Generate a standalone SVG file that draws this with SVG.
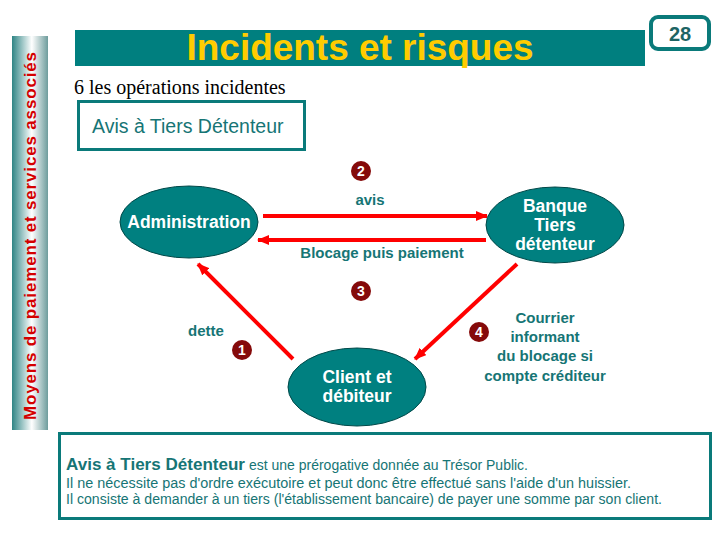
<svg xmlns="http://www.w3.org/2000/svg" width="720" height="540" viewBox="0 0 720 540">
<defs>
<linearGradient id="barGrad" x1="0" y1="0" x2="1" y2="0">
<stop offset="0" stop-color="#2f8585"/>
<stop offset="0.55" stop-color="#ffffff"/>
<stop offset="1" stop-color="#6e9c9c"/>
</linearGradient>
<marker id="ah" viewBox="0 0 12 10" refX="11" refY="5" markerWidth="12" markerHeight="10" markerUnits="userSpaceOnUse" orient="auto">
<path d="M0,0 L12,5 L0,10 z" fill="#ff0000"/>
</marker>
<style>
.node{fill:#008080;stroke:#004848;stroke-width:1}
.nt{font-family:"Liberation Sans",Arial,sans-serif;font-weight:bold;font-size:17.5px;fill:#ffffff;text-anchor:middle}
.lbl{font-family:"Liberation Sans",Arial,sans-serif;font-weight:bold;font-size:15px;fill:#167575;text-anchor:middle}
.arr{stroke:#ff0000;stroke-width:4;fill:none;marker-end:url(#ah)}
.num{fill:#850a0a}
.numt{font-family:"Liberation Sans",Arial,sans-serif;font-weight:bold;font-size:14px;fill:#ffffff;text-anchor:middle}
.body{font-family:"Liberation Sans",Arial,sans-serif;font-size:14px;fill:#167575}
</style>
</defs>
<rect width="720" height="540" fill="#ffffff"/>

<g id="sidebar">
<rect x="12" y="36" width="36" height="394" fill="url(#barGrad)"/>
<text transform="translate(36,420) rotate(-90)" font-family="'Liberation Sans',Arial,sans-serif" font-weight="bold" font-size="17" fill="#d40000" textLength="368" lengthAdjust="spacing">Moyens de paiement et services associés</text>
</g>

<g id="title">
<rect x="75" y="30" width="570" height="36" fill="#007f7f"/>
<text x="360" y="60" text-anchor="middle" font-family="'Liberation Sans',Arial,sans-serif" font-weight="bold" font-size="36" fill="#ffcc00" textLength="347" lengthAdjust="spacingAndGlyphs">Incidents et risques</text>
</g>

<g id="page">
<rect x="651" y="17" width="58" height="32" rx="7" fill="#ffffff" stroke="#0a7a7a" stroke-width="4"/>
<text x="680" y="41" text-anchor="middle" font-family="'Liberation Sans',Arial,sans-serif" font-weight="bold" font-size="20" fill="#1d6464">28</text>
</g>

<g id="subtitle">
<text x="74" y="94" font-family="'Liberation Serif','Times New Roman',serif" font-size="20" fill="#000000">6 les opérations incidentes</text>
</g>

<g id="atd-box">
<rect x="78.500" y="101.500" width="226" height="48" fill="#ffffff" stroke="#0a7a7a" stroke-width="3"/>
<text x="92" y="133" font-family="'Liberation Sans',Arial,sans-serif" font-size="19.500" fill="#167575">Avis à Tiers Détenteur</text>
</g>

<g id="connectors">
<line class="arr" x1="263" y1="216" x2="487" y2="216"/>
<line class="arr" x1="486" y1="240" x2="258" y2="240"/>
<line class="arr" x1="293" y1="359" x2="198" y2="264"/>
<line class="arr" x1="517" y1="264" x2="415" y2="359"/>
<text class="lbl" x="370" y="205">avis</text>
<text class="lbl" x="382" y="258">Blocage puis paiement</text>
<text class="lbl" x="206" y="336">dette</text>
<text class="lbl"><tspan x="545" y="323">Courrier</tspan><tspan x="545" y="342">informant</tspan><tspan x="545" y="361">du blocage si</tspan><tspan x="545" y="381">compte créditeur</tspan></text>
</g>

<g id="step1"><circle class="num" cx="242" cy="350" r="10"/><text class="numt" x="242" y="355">1</text></g>
<g id="step2"><circle class="num" cx="361" cy="171" r="10"/><text class="numt" x="361" y="176">2</text></g>
<g id="step3"><circle class="num" cx="361" cy="291" r="10"/><text class="numt" x="361" y="296">3</text></g>
<g id="step4"><circle class="num" cx="479" cy="332" r="10"/><text class="numt" x="479" y="337">4</text></g>

<g id="administration">
<ellipse class="node" cx="189" cy="222" rx="69" ry="36"/>
<text class="nt" x="189" y="228">Administration</text>
</g>

<g id="banque">
<ellipse class="node" cx="555" cy="225" rx="69" ry="38"/>
<text class="nt"><tspan x="555" y="212">Banque</tspan><tspan x="555" y="231">Tiers</tspan><tspan x="555" y="250">détenteur</tspan></text>
</g>

<g id="client">
<ellipse class="node" cx="357" cy="387" rx="69" ry="39"/>
<text class="nt"><tspan x="357" y="383">Client et</tspan><tspan x="357" y="402">débiteur</tspan></text>
</g>

<g id="note">
<rect x="59.500" y="433.500" width="651" height="85" fill="#ffffff" stroke="#0a7a7a" stroke-width="3"/>
<text x="66" y="470" font-family="'Liberation Sans',Arial,sans-serif" font-weight="bold" font-size="17" fill="#167575" textLength="179" lengthAdjust="spacingAndGlyphs">Avis à Tiers Détenteur</text>
<text class="body" x="249" y="470" textLength="279" lengthAdjust="spacingAndGlyphs">est une prérogative donnée au Trésor Public.</text>
<text class="body" x="66" y="488" textLength="565" lengthAdjust="spacingAndGlyphs">Il ne nécessite pas d'ordre exécutoire et peut donc être effectué sans l'aide d'un huissier.</text>
<text class="body" x="66" y="504" textLength="596" lengthAdjust="spacingAndGlyphs">Il consiste à demander à un tiers (l'établissement bancaire) de payer une somme  par son client.</text>
</g>
</svg>
